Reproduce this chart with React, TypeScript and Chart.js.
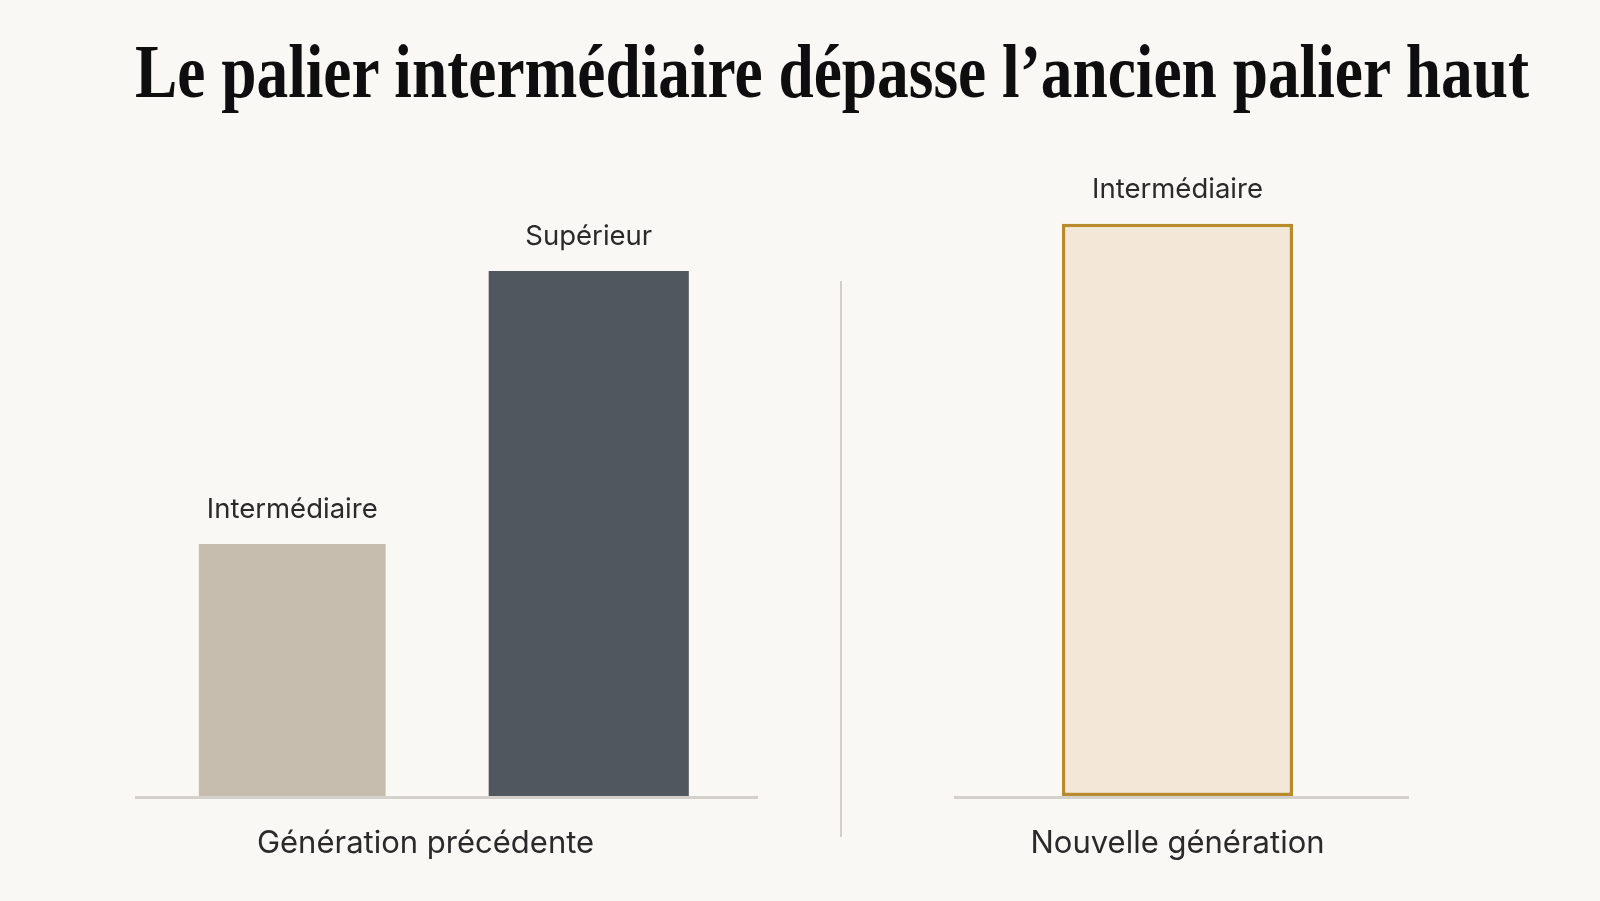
import { useEffect, useLayoutEffect, useRef } from "react";
import { Chart, registerables } from "chart.js";

Chart.register(...registerables);

// données
const TITLE = "Le palier intermédiaire dépasse l’ancien palier haut";
const GROUP_PREV = "Génération précédente";
const GROUP_NEW = "Nouvelle génération";
const PREV_TIERS = ["Intermédiaire", "Supérieur"];
const PREV_MID = [48, null];
const PREV_TOP = [null, 100];
const NEW_TIERS = ["Intermédiaire"];
const NEW_MID = [109];
const Y_MAX = 120;

const BG = "#F9F8F4";
const LABEL_FONT = "Inter, 'Noto Sans', sans-serif";

// ligne de base, étiquettes au-dessus des barres et nom du groupe
const decorPlugin = {
    id: "decor",
    beforeDatasetsDraw(chart: any, _args: any, opts: any) {
        const { ctx, chartArea } = chart;
        ctx.save();
        ctx.strokeStyle = "#D4D1CC";
        ctx.lineWidth = 3;
        ctx.beginPath();
        ctx.moveTo(chartArea.left - opts.extendLeft, chartArea.bottom + 1.5);
        ctx.lineTo(chartArea.right + opts.extendRight, chartArea.bottom + 1.5);
        ctx.stroke();
        ctx.restore();
    },
    afterDatasetsDraw(chart: any, _args: any, opts: any) {
        const { ctx, chartArea } = chart;
        ctx.save();
        ctx.fillStyle = "#2A2A2A";
        ctx.textAlign = "center";
        ctx.textBaseline = "middle";
        ctx.font = `400 27.5px ${LABEL_FONT}`;
        chart.data.datasets.forEach((ds: any, di: number) => {
            const meta = chart.getDatasetMeta(di);
            meta.data.forEach((bar: any, i: number) => {
                if (ds.data[i] == null) return;
                ctx.fillText(chart.data.labels[i], bar.x, bar.y - 34);
            });
        });
        ctx.font = `400 31px ${LABEL_FONT}`;
        ctx.fillText(
            opts.group,
            (chartArea.left + chartArea.right) / 2 + opts.groupShift,
            chartArea.bottom + 48
        );
        ctx.restore();
    },
};

function baseOptions(padding: any, decor: any) {
    return {
        responsive: false,
        animation: false as const,
        layout: { padding },
        plugins: {
            legend: { display: false },
            tooltip: { enabled: false },
            decor,
        },
        scales: {
            x: { display: false, stacked: false },
            y: { display: false, min: 0, max: Y_MAX },
        },
    };
}

export default function App() {
    const leftRef = useRef<HTMLCanvasElement | null>(null);
    const rightRef = useRef<HTMLCanvasElement | null>(null);
    const titleRef = useRef<HTMLSpanElement | null>(null);

    useLayoutEffect(() => {
        const el = titleRef.current;
        if (!el) return;
        const w = el.getBoundingClientRect().width;
        el.style.transform = `scaleX(${1394 / w})`;
    }, []);

    useEffect(() => {
        document.body.style.margin = "0";
        document.body.style.background = BG;
        if (!leftRef.current || !rightRef.current) return;

        const left = new Chart(leftRef.current, {
            type: "bar",
            data: {
                labels: PREV_TIERS,
                datasets: [
                    {
                        label: PREV_TIERS[0],
                        data: PREV_MID,
                        backgroundColor: "#C6BDAF",
                        grouped: false,
                        barPercentage: 0.63,
                        categoryPercentage: 1,
                    },
                    {
                        label: PREV_TIERS[1],
                        data: PREV_TOP,
                        backgroundColor: "#51575F",
                        grouped: false,
                        barPercentage: 0.675,
                        categoryPercentage: 1,
                    },
                ],
            },
            options: baseOptions(
                { left: 144, right: 63, top: 166, bottom: 105 },
                { extendLeft: 9, extendRight: 21, group: GROUP_PREV, groupShift: -15 }
            ) as any,
            plugins: [decorPlugin],
        });

        const right = new Chart(rightRef.current, {
            type: "bar",
            data: {
                labels: NEW_TIERS,
                datasets: [
                    {
                        label: NEW_TIERS[0],
                        data: NEW_MID,
                        backgroundColor: "#F3E8D7",
                        borderColor: "#B98B2F",
                        borderWidth: 3.5,
                        borderSkipped: false,
                        barPercentage: 0.517,
                        categoryPercentage: 1,
                    },
                ],
            },
            options: baseOptions(
                { left: 154, right: 199, top: 166, bottom: 105 },
                { extendLeft: 0, extendRight: 8, group: GROUP_NEW, groupShift: 0 }
            ) as any,
            plugins: [decorPlugin],
        });

        return () => {
            left.destroy();
            right.destroy();
        };
    }, []);

    return (
        <div
            style={{
                position: "absolute",
                left: 0,
                top: 0,
                width: 1600,
                height: 901,
                background: BG,
                overflow: "hidden",
            }}
        >
            <div
                style={{
                    position: "absolute",
                    left: 135,
                    top: 33,
                    whiteSpace: "nowrap",
                    fontFamily: "'Liberation Serif', 'DejaVu Serif', serif",
                    fontWeight: 700,
                    fontSize: 76,
                    lineHeight: "76px",
                    color: "#0E0E0E",
                }}
            >
                <span
                    ref={titleRef}
                    style={{ display: "inline-block", transformOrigin: "left center" }}
                >
                    {TITLE}
                </span>
            </div>
            <canvas
                ref={leftRef}
                width={800}
                height={901}
                style={{ position: "absolute", left: 0, top: 0 }}
            />
            <canvas
                ref={rightRef}
                width={800}
                height={901}
                style={{ position: "absolute", left: 800, top: 0 }}
            />
            <div
                style={{
                    position: "absolute",
                    left: 840,
                    top: 281,
                    width: 2,
                    height: 556,
                    background: "#D2CFCA",
                }}
            />
        </div>
    );
}
